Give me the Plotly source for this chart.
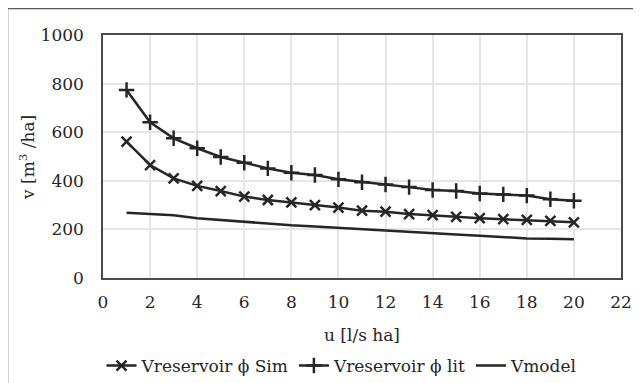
import plotly.graph_objects as go

u = list(range(1, 21))
v_sim = [561, 465, 410, 379, 358, 335, 321, 311, 300, 290, 277, 273, 263, 259, 252, 246, 242, 239, 235, 229]
v_lit = [774, 641, 575, 534, 498, 474, 451, 433, 424, 406, 394, 385, 374, 362, 358, 348, 344, 339, 324, 318]
v_model = [269, 262, 258, 246, 239, 229, 223, 217, 212, 206, 200, 195, 190, 185, 179, 174, 169, 163, 162, 159]

names = ["Vreservoir \u03d5 Sim", "Vreservoir \u03d5 lit", "Vmodel"]
x_ticks = list(range(0, 23, 2))
y_ticks = list(range(0, 1001, 200))

FONT = "DejaVu Serif"
INK = "#262626"
FS = 17

# page body has an 8px margin: figure origin sits at (8, 8) of the window
OFF = 8
W, H = 641 - OFF, 383 - OFF
# target plot box in window pixels: left 103, right 621, top 35, bottom 278
L, T = 103 - OFF, 35 - OFF
R = W - (621 - OFF)
B = H - (278 - OFF)
pw, ph = W - L - R, H - T - B

def px(xwin):
    return (xwin - OFF - L) / pw

def py(ywin):
    return (H - B - (ywin - OFF)) / ph

fig = go.Figure()
fig.add_trace(go.Scatter(x=u, y=v_sim, name=names[0], mode="lines+markers",
                         line=dict(color=INK, width=2.5),
                         marker=dict(symbol="x-thin", size=10, line=dict(color=INK, width=2.5))))
fig.add_trace(go.Scatter(x=u, y=v_lit, name=names[1], mode="lines+markers",
                         line=dict(color=INK, width=2.5),
                         marker=dict(symbol="cross-thin", size=11, line=dict(color=INK, width=2.5))))
fig.add_trace(go.Scatter(x=u, y=v_model, name=names[2], mode="lines",
                         line=dict(color=INK, width=2.5)))

axis_common = dict(showgrid=True, gridcolor="#e6e6e6", gridwidth=2,
                   showline=True, linecolor="#4a4a4a", linewidth=1.5, mirror=True,
                   zeroline=False, ticks="", tickfont=dict(family=FONT, size=FS, color=INK))

fig.update_layout(
    width=W, height=H,
    margin=dict(l=L, r=R, t=T, b=B, autoexpand=False),
    paper_bgcolor="white", plot_bgcolor="white",
    font=dict(family=FONT, size=FS, color=INK),
    xaxis=dict(range=[0, 22], tickvals=x_ticks, ticklabelstandoff=8, **axis_common),
    yaxis=dict(range=[0, 1000], tickvals=y_ticks, ticklabelstandoff=14, **axis_common),
    showlegend=True,
    legend=dict(orientation="h", x=px(342), xanchor="center", y=py(366), yanchor="middle",
                font=dict(family=FONT, size=FS, color=INK), bgcolor="rgba(0,0,0,0)",
                itemwidth=30, tracegroupgap=0),
    annotations=[
        dict(text="u [l/s ha]", x=px(362), y=py(335), xref="paper", yref="paper",
             xanchor="center", yanchor="middle",
             showarrow=False, font=dict(family=FONT, size=FS, color=INK)),
        dict(text="v [m<sup>3</sup> /ha]", x=px(27), y=py(158), xref="paper", yref="paper",
             xanchor="center", yanchor="middle",
             showarrow=False, textangle=-90, font=dict(family=FONT, size=FS, color=INK)),
    ],
    shapes=[
        dict(type="rect", xref="paper", yref="paper",
             x0=px(7.5), x1=px(640), y0=py(400), y1=py(8.5),
             line=dict(color="#595959", width=1.5), fillcolor="rgba(0,0,0,0)", layer="below"),
    ],
)

fig.write_html("out.html")
